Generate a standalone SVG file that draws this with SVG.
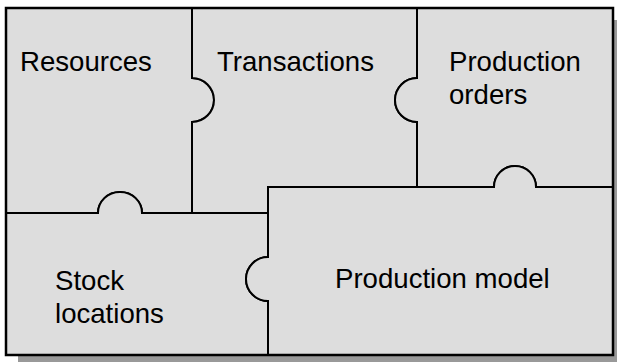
<svg xmlns="http://www.w3.org/2000/svg" width="617" height="362" viewBox="0 0 617 362">
<style>
.piece{fill:#dddddd;stroke:#000;stroke-width:2;stroke-linejoin:miter}
.lbl{font-family:"Liberation Sans",Arial,sans-serif;font-size:27.6px;fill:#000}
</style>
<rect x="18" y="20" width="620" height="360" fill="#999999"/>
<rect x="6" y="8" width="607" height="347" fill="#dddddd"/>
<g id="resources">
<path class="piece" d="M6,8 H192 V78 A22 22 0 0 1 192 122 V213 H142 A22 21 0 0 0 98 213 H6 Z"/>
<text class="lbl" x="20" y="71">Resources</text>
</g>
<g id="transactions">
<path class="piece" d="M192,8 H417 V78 A22 22 0 0 0 417 122 V187 H268 V213 H192 V122 A22 22 0 0 0 192 78 Z"/>
<text class="lbl" x="217" y="71">Transactions</text>
</g>
<g id="production-orders">
<path class="piece" d="M417,8 H613 V187 H536 A21 21 0 0 0 494 187 H417 V122 A22 22 0 0 1 417 78 Z"/>
<text class="lbl" x="449" y="71">Production</text>
<text class="lbl" x="449" y="104">orders</text>
</g>
<g id="stock-locations">
<path class="piece" d="M6,213 H98 A22 21 0 0 1 142 213 H268 V257 A22 22 0 0 0 268 301 V355 H6 Z"/>
<text class="lbl" x="55" y="290">Stock</text>
<text class="lbl" x="55" y="323">locations</text>
</g>
<g id="production-model">
<path class="piece" d="M268,187 H494 A21 21 0 0 1 536 187 H613 V355 H268 V301 A22 22 0 0 1 268 257 Z"/>
<text class="lbl" x="335" y="288">Production model</text>
</g>
<g id="connectors">
<rect x="6" y="8" width="607" height="347" fill="none" stroke="#000" stroke-width="2.5"/>
</g>
</svg>
